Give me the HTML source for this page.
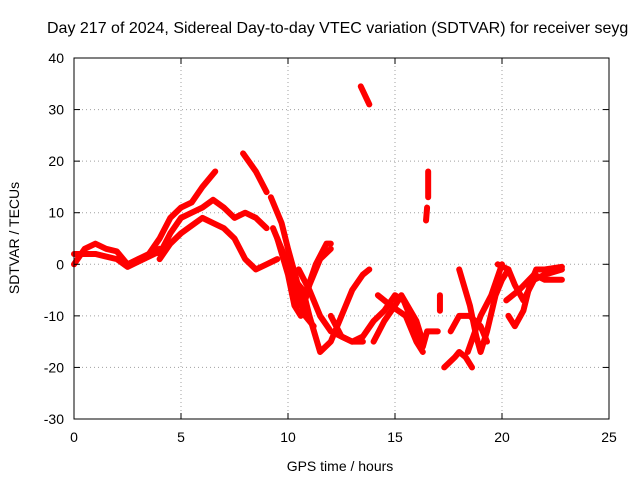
<!DOCTYPE html>
<html><head><meta charset="utf-8"><style>
body{margin:0;background:#fff}
svg{display:block;font-family:"Liberation Sans",sans-serif;font-size:14px}
</style></head><body>
<svg id="chart" width="640" height="480">
<text x="47" y="33" style="font-size:16px">Day 217 of 2024, Sidereal Day-to-day VTEC variation (SDTVAR) for receiver seyg</text>
<g id="grid"></g>
<g id="tracks"></g>
<g id="axes"></g>
<text x="340" y="471" text-anchor="middle">GPS time / hours</text>
<text transform="translate(19,238) rotate(-90)" text-anchor="middle">SDTVAR / TECUs</text>
</svg>
<script>
const xTicks=[0,5,10,15,20,25];
const yTicks=[-30,-20,-10,0,10,20,30,40];
const tracks=[
[[0,2],[0.5,2],[1,2],[1.5,1.5],[2,1],[2.5,-0.5],[3,0.5],[3.5,1.5],[4,2.5]],
[[0,0],[0.5,3],[1,4],[1.5,3],[2,2.5],[2.5,0],[3,1],[3.5,2],[4,3]],
[[3.5,2],[4,5],[4.5,9],[5,11],[5.5,12],[6,15],[6.6,18]],
[[4,2],[4.5,6],[5,9],[5.5,10],[6,11],[6.5,12.5],[7,11],[7.5,9],[8,10],[8.5,9],[9,7]],
[[4,1],[4.5,4],[5,6],[5.5,7.5],[6,9],[6.5,8],[7,7],[7.5,5],[8,1],[8.5,-1],[9,0],[9.5,1]],
[[7.9,21.5],[8.5,18],[9,14]],
[[9.2,13],[9.7,8],[10,3],[10.4,-3],[10.8,-10],[11.2,-12]],
[[9.3,7],[9.8,2],[10.2,-4],[10.5,-8],[10.8,-6],[11.3,0],[11.8,4],[12,4]],
[[9.5,5],[10,-2],[10.3,-8],[10.6,-10],[11,-4],[11.5,1],[12,3]],
[[10.1,-2],[10.7,-5],[11,-10],[11.5,-17],[12,-15],[12.5,-10],[13,-5],[13.5,-2],[13.8,-1]],
[[10.5,-1],[11,-5],[11.5,-10],[12,-13],[12.5,-14],[13,-15],[13.5,-14],[14,-11],[14.5,-9],[15,-6],[15.4,-7],[16,-13],[16.3,-16],[16.5,-13],[17,-13]],
[[12,-10],[12.5,-14],[13,-15],[13.5,-15]],
[[13.4,34.5],[13.8,31]],
[[14,-15],[14.5,-11],[15,-8],[15.3,-6],[16,-11],[16.3,-15]],
[[14.2,-6],[14.8,-8],[15.5,-10],[16,-15],[16.3,-17]],
[[16.45,8.5],[16.5,11]],
[[16.55,13],[16.55,18]],
[[17.1,-6],[17.1,-9]],
[[17.3,-20],[17.8,-18],[18,-17],[18.3,-18],[18.6,-20]],
[[17.6,-13],[18,-10],[18.5,-10],[19,-12],[19.3,-15]],
[[18,-1],[18.5,-8],[18.8,-14],[19,-17],[19.3,-13],[19.7,-6],[20,-3],[20.3,-1]],
[[18.4,-17],[19,-10],[19.5,-6],[20,0]],
[[19.8,0],[20.3,-1],[20.6,-4],[21,-7],[21.5,-3],[22,-2],[22.8,-1]],
[[20.3,-10],[20.6,-12],[21,-9],[21.3,-4],[21.6,-1],[22,-1],[22.8,-0.5]],
[[20.2,-7],[20.8,-5],[21.5,-2],[22,-3],[22.8,-3]]
];
const L=74,R=609,T=58,B=419,xmin=0,xmax=25,ymin=-30,ymax=40;
const X=v=>L+(v-xmin)/(xmax-xmin)*(R-L);
const Y=v=>B-(v-ymin)/(ymax-ymin)*(B-T);
const NS="http://www.w3.org/2000/svg";
function mk(tag,attrs,parent){const e=document.createElementNS(NS,tag);for(const k in attrs)e.setAttribute(k,attrs[k]);parent.appendChild(e);return e;}
const grid=document.getElementById('grid'),axes=document.getElementById('axes'),tg=document.getElementById('tracks');
xTicks.forEach(t=>{
 if(t>xmin&&t<xmax){const g=mk('line',{x1:X(t),x2:X(t),y1:T,y2:B,stroke:'#a0a0a0','stroke-dasharray':'1,3'},grid);
 
 }
 mk('line',{x1:X(t),x2:X(t),y1:B,y2:B-6,stroke:'#000'},axes);
 mk('line',{x1:X(t),x2:X(t),y1:T,y2:T+6,stroke:'#000'},axes);
 const tx=mk('text',{x:X(t),y:B+23,'text-anchor':'middle'},axes);tx.textContent=t;
 
 
});
yTicks.forEach(t=>{
 if(t>ymin&&t<ymax){const g=mk('line',{x1:L,x2:R,y1:Y(t),y2:Y(t),stroke:'#a0a0a0','stroke-dasharray':'1,3'},grid);
 
 }
 mk('line',{x1:L,x2:L+6,y1:Y(t),y2:Y(t),stroke:'#000'},axes);
 mk('line',{x1:R,x2:R-6,y1:Y(t),y2:Y(t),stroke:'#000'},axes);
 const tx=mk('text',{x:L-10,y:Y(t)+5,'text-anchor':'end'},axes);tx.textContent=t;
 
 
});
mk('rect',{x:L,y:T,width:R-L,height:B-T,fill:'none',stroke:'#000'},axes);
tracks.forEach(tr=>{
 const p=mk('polyline',{points:tr.map(d=>X(d[0])+','+Y(d[1])).join(' '),fill:'none',stroke:'#ff0000','stroke-width':6,'stroke-linejoin':'round','stroke-linecap':'round'},tg);
 
 
});
</script>
</body></html>
